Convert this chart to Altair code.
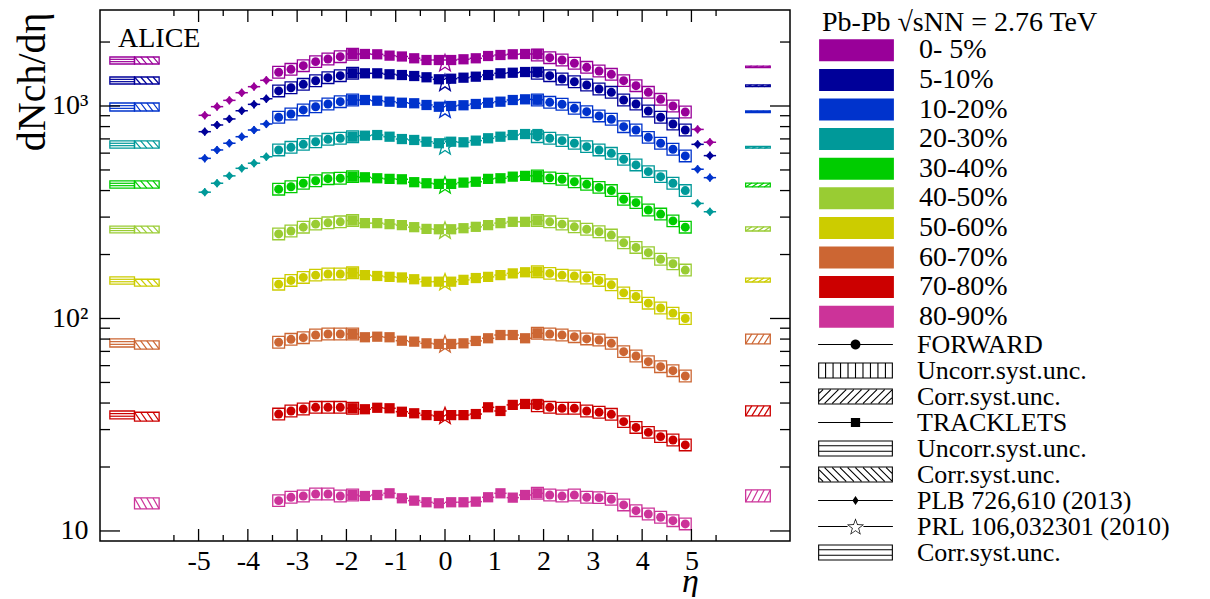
import math
import altair as alt
import pandas as pd

# ---------------- data ----------------
CENTS = ["0- 5%", "5-10%", "10-20%", "20-30%", "30-40%", "40-50%", "50-60%", "60-70%", "70-80%", "80-90%"]
COLORS = ["#990099", "#000099", "#0033cc", "#009999", "#00cc00", "#99cc33", "#cccc00", "#cc6633", "#cc0000", "#cc3399"]

ETA_FWD = [-3.375, -3.125, -2.875, -2.625, -2.375, -2.125, -1.875,
           1.875, 2.125, 2.375, 2.625, 2.875, 3.125, 3.375, 3.625, 3.875, 4.125, 4.375, 4.625, 4.875]
ETA_TRK = [-1.875, -1.625, -1.375, -1.125, -0.875, -0.625, -0.375, -0.125,
           0.125, 0.375, 0.625, 0.875, 1.125, 1.375, 1.625, 1.875]
ETA_PLB = [-4.875, -4.625, -4.375, -4.125, -3.875, -3.625, 5.125, 5.375]

FWD_00_05 = [1441, 1488, 1548, 1617, 1664, 1706, 1751, 1738, 1688, 1646, 1589, 1521, 1461, 1410, 1316, 1246, 1160, 1075, 1000, 937]
FWD_05_10 = [1177, 1219, 1265, 1315, 1359, 1389, 1425, 1425, 1389, 1340, 1301, 1256, 1202, 1160, 1067, 1022, 947, 885, 823, 771]
FWD_10_20 = [885, 917, 958, 992, 1022, 1048, 1067, 1067, 1041, 1019, 975, 940, 898, 866, 799, 771, 712, 668, 626, 582]
FWD_20_30 = [621, 639, 660, 679, 697, 705, 717, 717, 705, 687, 668, 644, 621, 599, 561, 528, 491, 465, 433, 400]
FWD_30_40 = [406, 417, 433, 445, 455, 457, 465, 469, 459, 452, 440, 428, 414, 400, 364, 351, 324, 310, 288, 269]
FWD_40_50 = [250, 258, 269, 278, 282, 285, 289, 289, 285, 278, 270, 263, 256, 247, 227, 216, 204, 190, 181, 169]
FWD_50_60 = [145, 151, 156, 160, 162, 162, 164, 166, 163, 160, 158.5, 155, 151, 144, 132, 127, 118, 112, 106, 100]
FWD_60_70 = [77.3, 79.8, 81.2, 83.6, 84.5, 84.5, 84.5, 85.2, 84.5, 83.6, 82.1, 80.1, 79.2, 76.4, 69.8, 66.6, 62.6, 59.3, 56.8, 53.6]
FWD_70_80 = [35.5, 36.7, 37.5, 38.2, 38.2, 38.2, 37.8, 38.8, 38.2, 37.8, 37.8, 36.7, 36.2, 35.4, 32.7, 30.7, 29.1, 27.8, 26.8, 25.4]
FWD_80_90 = [13.89, 14.41, 14.61, 14.93, 14.93, 14.61, 14.77, 15.04, 14.77, 14.61, 14.77, 14.41, 14.35, 14.10, 13.26, 12.46, 12.02, 11.60, 11.18, 10.79]

TRK_00_05 = [1757, 1757, 1751, 1726, 1710, 1677, 1646, 1646, 1646, 1659, 1677, 1719, 1738, 1751, 1757, 1757]
TRK_05_10 = [1425, 1425, 1425, 1410, 1399, 1384, 1365, 1336, 1344, 1359, 1374, 1399, 1425, 1434, 1445, 1445]
TRK_10_20 = [1067, 1067, 1059, 1048, 1036, 1030, 1011, 992, 1000, 1008, 1022, 1036, 1048, 1067, 1075, 1070]
TRK_20_30 = [717, 725, 730, 717, 699, 692, 679, 668, 679, 675, 687, 705, 717, 730, 738, 738]
TRK_30_40 = [465, 462, 457, 454, 452, 438, 433, 430, 430, 436, 440, 454, 457, 465, 469, 469]
TRK_40_50 = [289, 281, 281, 278, 275, 269, 264, 263, 263, 266, 270, 275, 281, 285, 285, 289]
TRK_50_60 = [164, 160, 158.5, 157, 156, 153, 149, 149, 149, 152, 155, 157, 160, 163, 165, 166]
TRK_60_70 = [84.5, 81.6, 82.1, 81.6, 78.6, 77.8, 76.4, 75.9, 75.9, 76.4, 78.4, 80.7, 83.6, 83.6, 80.7, 85.2]
TRK_70_80 = [37.8, 37.4, 38.0, 37.8, 36.4, 35.8, 35.1, 34.8, 35.1, 35.1, 35.5, 38.2, 36.7, 39.2, 39.6, 39.6]
TRK_80_90 = [14.77, 14.61, 14.77, 15.04, 14.25, 13.89, 13.65, 13.50, 13.65, 13.65, 13.74, 14.41, 15.04, 14.35, 14.77, 15.04]

PLB_00_05 = [904, 993, 1063, 1155, 1233, 1321, 776, 675]
PLB_05_10 = [757, 814, 869, 950, 1018, 1082, 660, 584]
PLB_10_20 = [567, 621, 668, 717, 771, 823, 504, 460]
PLB_20_30 = [393, 433, 469, 509, 538, 577, 348, 318]

PRL_ETA0 = [1601, 1294, 966, 649, 426, 261, 149, 76, 35]

# correlated systematic boxes drawn at the sides
PRL_BOX_LO = [1576, 1269, 947, 634, 411, 253, 145, 73.4, 33.7, None]
PRL_BOX_HI = [1701, 1369, 1033, 685, 444, 272, 157, 80.1, 36.7, None]
TRK_BOX_LO = [1576, 1269, 947, 634, 411, 253, 142, 71.8, 32.9, 12.7]
TRK_BOX_HI = [1701, 1369, 1033, 685, 444, 272, 153, 78.4, 36.2, 14.3]
FWD_BOX_LO = [1517, 1233, 932, 634, 416, 258, 148.5, 75.9, 34.8, 13.7]
FWD_BOX_HI = [1542, 1256, 947, 645, 434, 270, 155, 84.5, 38.8, 15.6]

X_MAJOR = [-5, -4, -3, -2, -1, 0, 1, 2, 3, 4, 5]
X_MINOR = [-5.5, -4.5, -3.5, -2.5, -1.5, -0.5, 0.5, 1.5, 2.5, 3.5, 4.5, 5.5]
Y_MAJOR = [10, 100, 1000]
Y_MINOR = [20, 30, 40, 50, 60, 70, 80, 90, 200, 300, 400, 500, 600, 700, 800, 900, 2000]

LEG2_LABELS = ["FORWARD", "Uncorr.syst.unc.", "Corr.syst.unc.", "TRACKLETS", "Uncorr.syst.unc.",
               "Corr.syst.unc.", "PLB 726,610 (2013)", "PRL 106,032301 (2010)", "Corr.syst.unc."]

FWD = [FWD_00_05, FWD_05_10, FWD_10_20, FWD_20_30, FWD_30_40, FWD_40_50, FWD_50_60, FWD_60_70, FWD_70_80, FWD_80_90]
TRK = [TRK_00_05, TRK_05_10, TRK_10_20, TRK_20_30, TRK_30_40, TRK_40_50, TRK_50_60, TRK_60_70, TRK_70_80, TRK_80_90]
PLB = [PLB_00_05, PLB_05_10, PLB_10_20, PLB_20_30]

# ---------------- layout / style ----------------
W, H = 690, 531
FONT = "Liberation Serif"
UNC = 1.065        # half-height factor of the uncorrelated boxes
BIN = 0.125
CIDX = list(range(len(CENTS)))

fwd_rows, trk_rows, plb_rows, prl_rows = [], [], [], []
for i, (c, vals) in enumerate(zip(CENTS, FWD)):
    for e, v in zip(ETA_FWD, vals):
        fwd_rows.append(dict(cent=c, ci=i, eta=e, v=v, x0=e - 0.12, x1=e + 0.12, lo=v / UNC, hi=v * UNC))
for i, (c, vals) in enumerate(zip(CENTS, TRK)):
    for e, v in zip(ETA_TRK, vals):
        trk_rows.append(dict(cent=c, ci=i, eta=e, v=v, x0=e - BIN, x1=e + BIN))
for i, (c, vals) in enumerate(zip(CENTS, PLB)):
    for e, v in zip(ETA_PLB, vals):
        plb_rows.append(dict(cent=c, ci=i, eta=e, v=v, x0=e - BIN, x1=e + BIN, lo=v / 1.045, hi=v * 1.045))
for i, (c, v) in enumerate(zip(CENTS, PRL_ETA0)):
    prl_rows.append(dict(cent=c, ci=i, eta=0.0, v=v))

fwd_df = pd.DataFrame(fwd_rows)
trk_df = pd.DataFrame(trk_rows)
plb_df = pd.DataFrame(plb_rows)
prl_df = pd.DataFrame(prl_rows)

box_rows, seg_rows = [], []
SIDE = [(-6.8, -6.3, PRL_BOX_LO, PRL_BOX_HI, "h"),
        (-6.3, -5.8, TRK_BOX_LO, TRK_BOX_HI, "b"),
        (6.1, 6.6, FWD_BOX_LO, FWD_BOX_HI, "f")]
for x0, x1, los, his, kind in SIDE:
    for i, (lo, hi) in enumerate(zip(los, his)):
        if lo is None:
            continue
        box_rows.append(dict(ci=i, x0=x0, x1=x1, lo=lo, hi=hi))
        n = 4
        dx = (x1 - x0) / n
        if kind == "h":
            r = hi / lo
            for f in (1 / 3, 2 / 3):
                yy = lo * r ** f
                seg_rows.append(dict(ci=i, xa=x0, xb=x1, ya=yy, yb=yy))
        else:
            for k in range(n):
                if kind == "b":
                    seg_rows.append(dict(ci=i, xa=x0 + k * dx, xb=x0 + (k + 1) * dx, ya=hi, yb=lo))
                else:
                    seg_rows.append(dict(ci=i, xa=x0 + k * dx, xb=x0 + (k + 1) * dx, ya=lo, yb=hi))
box_df = pd.DataFrame(box_rows)
seg_df = pd.DataFrame(seg_rows)

x_scale = alt.Scale(domain=[-7, 7], nice=False, zero=False)
y_scale = alt.Scale(type="log", domain=[8.97, 2830], nice=False, zero=False)

x_axis = alt.Axis(values=X_MAJOR, labelExpr="datum.value < 0 ? '-' + abs(datum.value) : '' + datum.value",
                  ticks=False, domain=False, grid=False, labelFont=FONT, labelFontSize=28,
                  labelPadding=6, labelColor="black", labelFlush=False, labelOverlap=False,
                  title="η", titleFont=FONT, titleFontSize=34, titleFontStyle="italic",
                  titleFontWeight="normal", titleX=590, titleY=50, titleAlign="center",
                  titleBaseline="alphabetic", titleColor="black")
y_axis = alt.Axis(values=Y_MAJOR,
                  labelExpr="datum.value == 10 ? '10' : (datum.value == 100 ? '10²' : '10³')",
                  ticks=False, domain=False, grid=False, labelFont=FONT, labelFontSize=28,
                  labelPadding=12, labelColor="black", labelFlush=False, labelOverlap=False,
                  title="dNch/dη", titleFont=FONT, titleFontSize=40, titleFontWeight="normal",
                  titleAngle=270, titleX=-68, titleY=2, titleAlign="right", titleBaseline="middle",
                  titleColor="black")

# ---- legend symbol paths (unit = 11 px); SH shifts the legend symbols right of the legend origin
T = 0.1
SH = 1.864


def rect(x0, y0, x1, y1, s=0.0):
    return f"M{x0 + s:.3f},{y0:.3f}H{x1 + s:.3f}V{y1:.3f}H{x0 + s:.3f}Z"


def poly(pts, s=0.0):
    return "M" + "L".join(f"{x + s:.3f},{y:.3f}" for x, y in pts) + "Z"


def frame(w, h, s, t=T):
    inner = [(-w + t, -h + t), (-w + t, h - t), (w - t, h - t), (w - t, -h + t)]
    return rect(-w, -h, w, h, s) + poly(inner, s)


def seg(xa, ya, xb, yb, s, t=T):
    L = math.hypot(xb - xa, yb - ya)
    nx, ny = -(yb - ya) / L * t / 2, (xb - xa) / L * t / 2
    return poly([(xa + nx, ya + ny), (xb + nx, yb + ny), (xb - nx, yb - ny), (xa - nx, ya - ny)], s)


def hatch(w, h, step, d, s):
    out = []
    c = -(w + h) + step / 2
    while c < w + h:
        xa, xb = max(-w, c - h), min(w, c + h)
        if xb - xa > 1e-6:
            if d > 0:
                out.append(seg(xa, c - xa, xb, c - xb, s))
            else:
                out.append(seg(xa, xa - c, xb, xb - c, s))
        c += step
    return "".join(out)


def star_pts(R, r, dy):
    pts = []
    for i in range(10):
        rr = R if i % 2 == 0 else r
        a = -math.pi / 2 + i * math.pi / 5
        pts.append((rr * math.cos(a), rr * math.sin(a) + dy))
    return pts


BW, BH = 3.4, 0.73
LINE = rect(-BW, -T / 2, BW, T / 2, SH)
HL2 = rect(-BW, -0.25 - T / 2, BW, -0.25 + T / 2, SH) + rect(-BW, 0.25 - T / 2, BW, 0.25 + T / 2, SH)
CIRCLE = poly([(0.45 * math.cos(2 * math.pi * i / 20), 0.45 * math.sin(2 * math.pi * i / 20)) for i in range(20)], SH)
SHAPES = [
    LINE + CIRCLE,
    frame(BW, BH, SH) + "".join(rect(-BW + k * 0.68 - T / 2, -BH, -BW + k * 0.68 + T / 2, BH, SH) for k in range(1, 10)),
    frame(BW, BH, SH) + hatch(BW - T, BH - T, 0.7, 1, SH),
    LINE + rect(-0.42, -0.42, 0.42, 0.42, SH),
    frame(BW, BH, SH) + HL2,
    frame(BW, BH, SH) + hatch(BW - T, BH - T, 0.7, -1, SH),
    LINE + poly([(0, -0.42), (0.28, 0), (0, 0.42), (-0.28, 0)], SH),
    rect(-BW, -T / 2, -0.72, T / 2, SH) + rect(0.72, -T / 2, BW, T / 2, SH)
    + poly(star_pts(0.82, 0.34, 0.08), SH) + poly(list(reversed(star_pts(0.65, 0.26, 0.08))), SH),
    frame(BW, BH, SH) + HL2,
]
LEG2_KEYS = [f"{i}|{lab}" for i, lab in enumerate(LEG2_LABELS)]
leg2_df = pd.DataFrame({"k": LEG2_KEYS, "x": [0.0] * 9, "y": [100.0] * 9})

legend1 = alt.Legend(orient="none", legendX=722, legendY=-1, padding=0,
                     title="Pb-Pb √sNN = 2.76 TeV", titleFont=FONT, titleFontSize=28,
                     titleFontWeight="normal", titleColor="black", titlePadding=-0.7, titleLimit=600,
                     titleAnchor="start", titleAlign="left",
                     labelFont=FONT, labelFontSize=28, labelColor="black", labelLimit=400,
                     labelOffset=69, symbolType=rect(-3.4, -1, 3.4, 1, SH), symbolSize=484,
                     symbolStrokeWidth=0, rowPadding=1.6)

legend2 = alt.Legend(orient="none", legendX=722, legendY=321.5, padding=0, title=None,
                     labelFont=FONT, labelFontSize=26, labelColor="black", labelLimit=400,
                     labelOffset=69, labelExpr="split(datum.label, '|')[1]",
                     symbolSize=484, symbolStrokeWidth=0, rowPadding=0)


def col():
    return alt.Color("cent:N", scale=alt.Scale(domain=CENTS, range=COLORS), legend=legend1)


def stk():
    return alt.Stroke("ci:N", scale=alt.Scale(domain=CIDX, range=COLORS), legend=None)


XA = lambda f: alt.X(f, scale=x_scale, axis=x_axis)
YA = lambda f: alt.Y(f, scale=y_scale, axis=y_axis)

fwd_boxes = alt.Chart(fwd_df).mark_rect(filled=False, strokeWidth=1.3).encode(
    x=XA("x0:Q"), x2="x1:Q", y=YA("lo:Q"), y2="hi:Q", stroke=stk())
side_boxes = alt.Chart(box_df).mark_rect(filled=False, strokeWidth=1.3).encode(
    x=XA("x0:Q"), x2="x1:Q", y=YA("lo:Q"), y2="hi:Q", stroke=stk())
side_hatch = alt.Chart(seg_df).mark_rule(strokeWidth=1.2).encode(
    x=XA("xa:Q"), x2="xb:Q", y=YA("ya:Q"), y2="yb:Q", stroke=stk())
trk_bars = alt.Chart(trk_df).mark_rule(strokeWidth=1.5).encode(
    x=XA("x0:Q"), x2="x1:Q", y=YA("v:Q"), stroke=stk())
plb_hbars = alt.Chart(plb_df).mark_rule(strokeWidth=1.5).encode(
    x=XA("x0:Q"), x2="x1:Q", y=YA("v:Q"), stroke=stk())
plb_vbars = alt.Chart(plb_df).mark_rule(strokeWidth=1.5).encode(
    x=XA("eta:Q"), y=YA("lo:Q"), y2="hi:Q", stroke=stk())

fwd_pts = alt.Chart(fwd_df).mark_point(filled=True, size=80, opacity=1).encode(
    x=XA("eta:Q"), y=YA("v:Q"), color=col())
trk_pts = alt.Chart(trk_df).mark_point(shape="square", filled=True, size=105, opacity=1).encode(
    x=XA("eta:Q"), y=YA("v:Q"), color=col())
plb_pts = alt.Chart(plb_df).mark_point(shape="diamond", filled=True, size=70, opacity=1).encode(
    x=XA("eta:Q"), y=YA("v:Q"), color=col())
prl_pts = alt.Chart(prl_df).mark_point(shape=poly(star_pts(1.0, 0.42, 0.1)), filled=False, size=324,
                                       strokeWidth=1.3, opacity=1).encode(
    x=XA("eta:Q"), y=YA("v:Q"), stroke=stk())

xmaj = pd.DataFrame({"t": X_MAJOR})
xmin = pd.DataFrame({"t": X_MINOR})
ymaj = pd.DataFrame({"t": Y_MAJOR})
ymin = pd.DataFrame({"t": Y_MINOR})
tick_style = dict(color="black", strokeWidth=1.3)
ticks = [
    alt.Chart(xmaj).mark_rule(**tick_style).encode(x=XA("t:Q"), y=alt.value(H), y2=alt.value(H - 12)),
    alt.Chart(xmin).mark_rule(**tick_style).encode(x=XA("t:Q"), y=alt.value(H), y2=alt.value(H - 6)),
    alt.Chart(xmaj).mark_rule(**tick_style).encode(x=XA("t:Q"), y=alt.value(0), y2=alt.value(12)),
    alt.Chart(xmin).mark_rule(**tick_style).encode(x=XA("t:Q"), y=alt.value(0), y2=alt.value(6)),
    alt.Chart(ymaj).mark_rule(**tick_style).encode(y=YA("t:Q"), x=alt.value(0), x2=alt.value(20)),
    alt.Chart(ymin).mark_rule(**tick_style).encode(y=YA("t:Q"), x=alt.value(0), x2=alt.value(10)),
    alt.Chart(ymaj).mark_rule(**tick_style).encode(y=YA("t:Q"), x=alt.value(W), x2=alt.value(W - 20)),
    alt.Chart(ymin).mark_rule(**tick_style).encode(y=YA("t:Q"), x=alt.value(W), x2=alt.value(W - 10)),
]

alice = alt.Chart(pd.DataFrame({"t": ["ALICE"]})).mark_text(
    font=FONT, fontSize=28, align="left", baseline="alphabetic", color="black").encode(
    text="t:N", x=alt.value(18), y=alt.value(37))

leg2_layer = alt.Chart(leg2_df).transform_filter("false").mark_point(
    size=484, opacity=1, strokeWidth=0).encode(
    x=XA("x:Q"), y=YA("y:Q"),
    shape=alt.Shape("k:N", scale=alt.Scale(domain=LEG2_KEYS, range=SHAPES), legend=legend2),
    fill=alt.Fill("k:N", scale=alt.Scale(domain=LEG2_KEYS, range=["black"] * 9), legend=legend2))

chart = alt.layer(
    fwd_boxes, side_boxes, side_hatch, trk_bars, plb_hbars, plb_vbars,
    fwd_pts, trk_pts, plb_pts, prl_pts, *ticks, alice, leg2_layer
).properties(
    width=W, height=H,
    padding={"left": 92, "top": 2, "right": 410, "bottom": 56},
    autosize=alt.AutoSizeParams(type="none"),
    background="white",
).configure_view(stroke="black", strokeWidth=1.5)

chart.save("out.html", embed_options={"renderer": "svg", "actions": False})
